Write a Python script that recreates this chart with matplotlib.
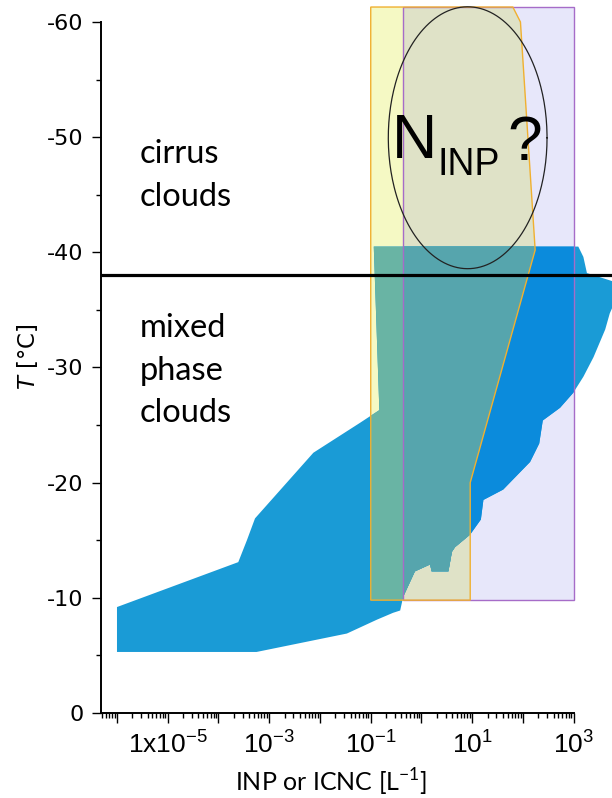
import numpy as np
import matplotlib.pyplot as plt
from matplotlib import ticker
from matplotlib.patches import Polygon

plt.rcParams['axes.unicode_minus'] = False
plt.rcParams['mathtext.fontset'] = 'dejavusans'

# concentrations are kept as log10 [L-1], temperatures in degC
# observed INP / ICNC envelope
blue_logx = [-6.0, -6.0, -3.61, -3.44, -3.28, -2.13, -1.21, -0.83, -0.94, 3.09,
             3.19, 3.26, 3.83, 3.83, 3.71, 3.62, 3.39, 3.19, 2.99, 2.73,
             2.39, 2.32, 2.14, 1.61, 1.22, 1.17, 0.96, 0.66, 0.60, 0.53,
             0.20, 0.17, -0.13, -0.36, -0.42, -0.56, -0.88, -1.47, -3.25]
blue_T = [-5.3, -9.2, -13.1, -15.0, -16.9, -22.6, -25.2, -26.3, -40.5, -40.5,
          -39.6, -38.2, -37.4, -35.9, -34.7, -33.3, -30.9, -29.2, -27.8, -26.5,
          -25.4, -23.4, -21.8, -19.4, -18.5, -16.8, -15.5, -14.4, -14.0, -12.3,
          -12.3, -12.9, -12.3, -10.1, -8.9, -8.7, -8.1, -6.9, -5.3]

# yellow range
yellow_logx = [-1.0, -1.0, 1.80, 1.95, 2.24, 0.96, 0.96]
yellow_T = [-9.8, -61.3, -61.3, -60.0, -40.2, -20.0, -9.8]

# purple range (rectangle)
purple_logx = [-0.36, 3.0]
purple_T = [-9.8, -61.3]

# open question region
ell_logx, ell_T = 0.91, -49.95
ell_rx, ell_rT = 1.564, 11.37

T_hom = -38.0

c_blue = '#1a9bd6'
c_blue_p = '#0b8bdc'
c_blue_y = '#69b4a4'
c_blue_yp = '#56a5ad'
c_yellow = '#f5f9c4'
c_lav = '#e7e7fa'
c_yp = '#dfe2c7'
c_yedge = '#f0b030'
c_pedge = '#a66cc8'

xmin, xmax = 10 ** -6.315, 10 ** 3.754

fig = plt.figure(figsize=(6.12, 7.98), dpi=100)
ax = fig.add_axes([101 / 612, 85 / 798, 511 / 612, 713 / 798])
ax.set_xscale('log')
ax.set_xlim(xmin, xmax)
ax.set_ylim(0, -61.91)


def pts(logx, T):
    return np.column_stack([10.0 ** np.asarray(logx), T])


px0, px1 = purple_logx
pT0, pT1 = purple_T
purple_xy = pts([px0, px0, px1, px1], [pT0, pT1, pT1, pT0])
yellow_xy = pts(yellow_logx, yellow_T)
yp_logx = [max(v, px0) for v in yellow_logx]
yp_xy = pts(yp_logx, yellow_T)
blue_xy = pts(blue_logx, blue_T)

ax.add_patch(Polygon(purple_xy, closed=True, fc=c_lav, ec='none', zorder=1))
ax.add_patch(Polygon(yellow_xy, closed=True, fc=c_yellow, ec='none', zorder=1.1))
ax.add_patch(Polygon(yp_xy, closed=True, fc=c_yp, ec='none', zorder=1.2))

# envelope, recoloured where it sits under the two ranges
ax.add_patch(Polygon(blue_xy, closed=True, fc=c_blue, ec='none', zorder=2))
for clip_xy, col, z in [(purple_xy, c_blue_p, 2.1),
                        (yellow_xy, c_blue_y, 2.2),
                        (yp_xy, c_blue_yp, 2.3)]:
    piece = Polygon(blue_xy, closed=True, fc=col, ec='none', zorder=z)
    ax.add_patch(piece)
    piece.set_clip_path(Polygon(clip_xy, closed=True, transform=ax.transData))

ax.add_patch(Polygon(purple_xy, closed=True, fc='none', ec=c_pedge, lw=1.0, zorder=3))
ax.add_patch(Polygon(yellow_xy, closed=True, fc='none', ec=c_yedge, lw=1.0, zorder=3.1))

ax.axhline(T_hom, color='black', lw=2.3, zorder=4)

t = np.linspace(0, 2 * np.pi, 300)
ax.plot(10.0 ** (ell_logx + ell_rx * np.cos(t)), ell_T + ell_rT * np.sin(t),
        color='#222222', lw=0.9, zorder=4)

txt_font = 'Lato'
for s, T in [('cirrus', -47.73), ('clouds', -44.02),
             ('mixed', -32.62), ('phase', -28.92), ('clouds', -25.29)]:
    ax.text(10 ** -5.55, T, s, fontsize=23.5, family=txt_font, va='baseline', zorder=5)

ax.text(10 ** -0.58, -48.17, 'N', fontsize=45, family='Liberation Sans', va='baseline', zorder=5)
ax.text(10 ** 0.325, -46.72, 'INP', fontsize=27, family='Liberation Sans', va='baseline', zorder=5)
ax.text(10 ** 1.70, -48.02, '?', fontsize=45, family='Liberation Sans', va='baseline', zorder=5)

# axes styling
for side in ['top', 'right']:
    ax.spines[side].set_visible(False)
ax.spines['left'].set_bounds(-60, 0)
ax.spines['bottom'].set_bounds(xmin, 1e3)
for side in ['left', 'bottom']:
    ax.spines[side].set_linewidth(1.4)

dec = list(range(-6, 4))
ax.xaxis.set_major_locator(ticker.FixedLocator([10.0 ** e for e in dec]))
ax.xaxis.set_major_formatter(ticker.FixedFormatter(
    ['', r'1x10$^{\mathregular{-5}}$', '', r'10$^{\mathregular{-3}}$', '',
     r'10$^{\mathregular{-1}}$', '', r'10$^{\mathregular{1}}$', '', r'10$^{\mathregular{3}}$']))
minor_x = [m * 10.0 ** e for e in range(-7, 3) for m in range(2, 10) if m * 10.0 ** e >= xmin]
ax.xaxis.set_minor_locator(ticker.FixedLocator(minor_x))
ax.xaxis.set_minor_formatter(ticker.NullFormatter())

ax.yaxis.set_major_locator(ticker.FixedLocator([-60, -50, -40, -30, -20, -10, 0]))
ax.yaxis.set_minor_locator(ticker.FixedLocator([-55, -45, -35, -25, -15, -5]))

ax.tick_params(axis='both', which='major', direction='out', width=1.0)
ax.tick_params(axis='both', which='minor', direction='out', width=1.0)
ax.tick_params(axis='y', which='major', length=6.5, pad=6, labelsize=16,
               labelfontfamily='DejaVu Sans')
ax.tick_params(axis='y', which='minor', length=3.5)
ax.tick_params(axis='x', which='major', length=7, pad=5, labelsize=19,
               labelfontfamily='Liberation Sans')
ax.tick_params(axis='x', which='minor', length=3.5)

ax.set_xlabel(r'INP or ICNC [L$^{\mathregular{-1}}$]', fontsize=18, family='Lato')
ax.xaxis.set_label_coords((331 - 101) / 511, -0.075)
ax.set_ylabel(r'$\mathit{T}$ [°C]', fontsize=16.5, family='DejaVu Sans')
ax.yaxis.set_label_coords(-0.12, 0.5)

fig.savefig('out.png', dpi=100)
